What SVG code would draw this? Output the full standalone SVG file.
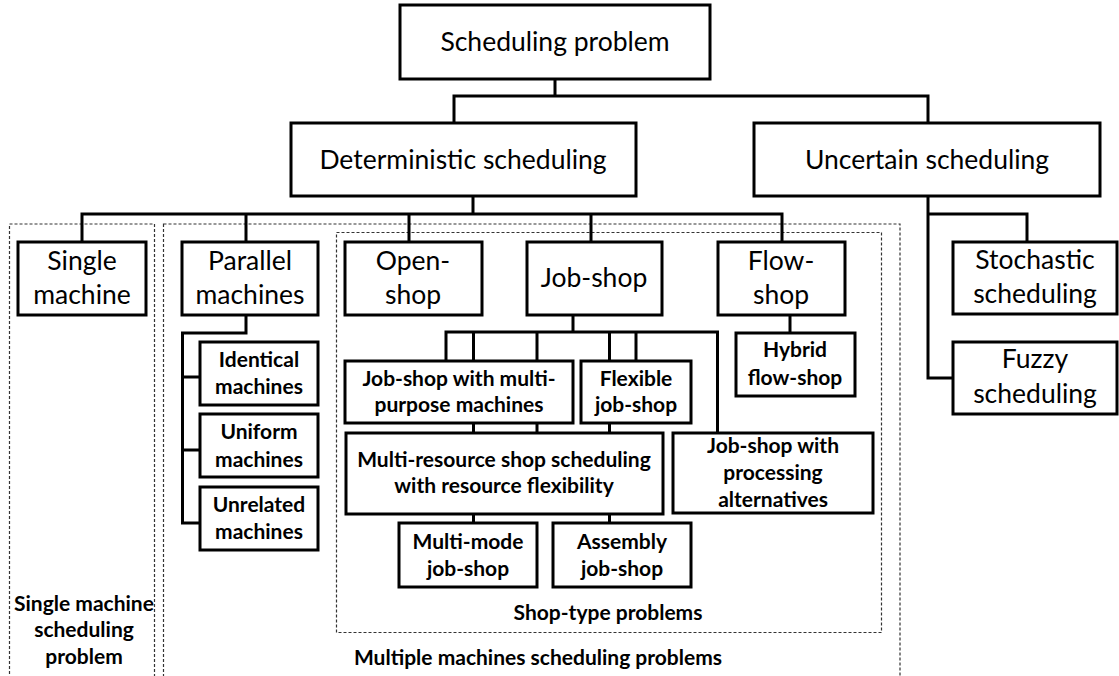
<svg xmlns="http://www.w3.org/2000/svg" width="1119" height="676" viewBox="0 0 1119 676">
<style>
.n{fill:#fff;stroke:#000;stroke-width:3}
.d{fill:none;stroke:#333;stroke-width:1.2;stroke-dasharray:3,2}
.c{fill:none;stroke:#000;stroke-width:3}
.t{font-family:Lato,"Liberation Sans",sans-serif;font-size:26.5px;text-anchor:middle;fill:#000}
.b{font-family:Lato,"Liberation Sans",sans-serif;font-size:21px;font-weight:bold;text-anchor:middle;fill:#000}
</style>
<rect width="1119" height="676" fill="#fff"/>
<g id="groups">
<rect class="d" x="9.5" y="224" width="145" height="470"/>
<rect class="d" x="163.5" y="224" width="736.5" height="470"/>
<rect class="d" x="336.5" y="232.5" width="545" height="400"/>
<text class="b" x="84" y="611">Single machine</text>
<text class="b" x="84" y="637">scheduling</text>
<text class="b" x="84" y="664">problem</text>
<text class="b" x="608" y="620">Shop-type problems</text>
<text class="b" x="538" y="665">Multiple machines scheduling problems</text>
</g>
<g id="connectors">
<path class="c" d="M555 79V96M454 123V96H928V123"/>
<path class="c" d="M473 196V214M82 242V214H782V242M246 214V242M409 214V242M591 214V242"/>
<path class="c" d="M928 196V378H953M928 214H1027V242"/>
<path class="c" d="M246 315V333H182.5V523H200M182.5 377H200M182.5 450H200"/>
<path class="c" d="M573 314V332M446 361V332H717.5V433M473.5 332V361M537 332V361M609.5 332V361M636 332V361"/>
<path class="c" d="M473.5 423V433M537 423V433M609.5 423V433"/>
<path class="c" d="M473.5 514V523M609.5 514V523"/>
<path class="c" d="M790 314V333"/>
</g>
<g id="n-root"><rect class="n" x="400" y="5" width="310" height="74"/><text class="t" x="555" y="51">Scheduling problem</text></g>
<g id="n-det"><rect class="n" x="291" y="123" width="345" height="73"/><text class="t" x="463" y="169">Deterministic scheduling</text></g>
<g id="n-unc"><rect class="n" x="754" y="123" width="346" height="73"/><text class="t" x="927" y="169">Uncertain scheduling</text></g>
<g id="n-single"><rect class="n" x="18" y="242" width="128" height="73"/><text class="t" x="82" y="270">Single</text><text class="t" x="82" y="304">machine</text></g>
<g id="n-parallel"><rect class="n" x="182" y="242" width="136" height="73"/><text class="t" x="250" y="270">Parallel</text><text class="t" x="250" y="304">machines</text></g>
<g id="n-open"><rect class="n" x="345" y="242" width="137" height="73"/><text class="t" x="413" y="270">Open-</text><text class="t" x="413" y="304">shop</text></g>
<g id="n-job"><rect class="n" x="527" y="242" width="135" height="73"/><text class="t" x="594" y="287">Job-shop</text></g>
<g id="n-flow"><rect class="n" x="718" y="242" width="127" height="73"/><text class="t" x="781" y="270">Flow-</text><text class="t" x="781" y="304">shop</text></g>
<g id="n-stoch"><rect class="n" x="953" y="242" width="164" height="72"/><text class="t" x="1035" y="269">Stochastic</text><text class="t" x="1035" y="303">scheduling</text></g>
<g id="n-fuzzy"><rect class="n" x="953" y="342" width="164" height="72"/><text class="t" x="1035" y="368">Fuzzy</text><text class="t" x="1035" y="403">scheduling</text></g>
<g id="n-ident"><rect class="n" x="200" y="342" width="118" height="63"/><text class="b" x="259" y="367">Identical</text><text class="b" x="259" y="394">machines</text></g>
<g id="n-unif"><rect class="n" x="200" y="414" width="118" height="63"/><text class="b" x="259" y="439">Uniform</text><text class="b" x="259" y="467">machines</text></g>
<g id="n-unrel"><rect class="n" x="200" y="487" width="118" height="63"/><text class="b" x="259" y="512">Unrelated</text><text class="b" x="259" y="539">machines</text></g>
<g id="n-jsmp"><rect class="n" x="345" y="361" width="228" height="62"/><text class="b" x="459" y="386">Job-shop with multi-</text><text class="b" x="459" y="412">purpose machines</text></g>
<g id="n-flex"><rect class="n" x="581" y="361" width="110" height="62"/><text class="b" x="636" y="386">Flexible</text><text class="b" x="636" y="412">job-shop</text></g>
<g id="n-hybrid"><rect class="n" x="736" y="333" width="119" height="63"/><text class="b" x="795" y="357">Hybrid</text><text class="b" x="795" y="385">flow-shop</text></g>
<g id="n-multires"><rect class="n" x="346" y="433" width="317" height="81"/><text class="b" x="504" y="467">Multi-resource shop scheduling</text><text class="b" x="504" y="493">with resource flexibility</text></g>
<g id="n-procalt"><rect class="n" x="673" y="433" width="200" height="80"/><text class="b" x="773" y="453">Job-shop with</text><text class="b" x="773" y="480">processing</text><text class="b" x="773" y="507">alternatives</text></g>
<g id="n-multimode"><rect class="n" x="399" y="523" width="138" height="64"/><text class="b" x="468" y="549">Multi-mode</text><text class="b" x="468" y="576">job-shop</text></g>
<g id="n-assembly"><rect class="n" x="553" y="523" width="138" height="64"/><text class="b" x="622" y="549">Assembly</text><text class="b" x="622" y="576">job-shop</text></g>
</svg>
